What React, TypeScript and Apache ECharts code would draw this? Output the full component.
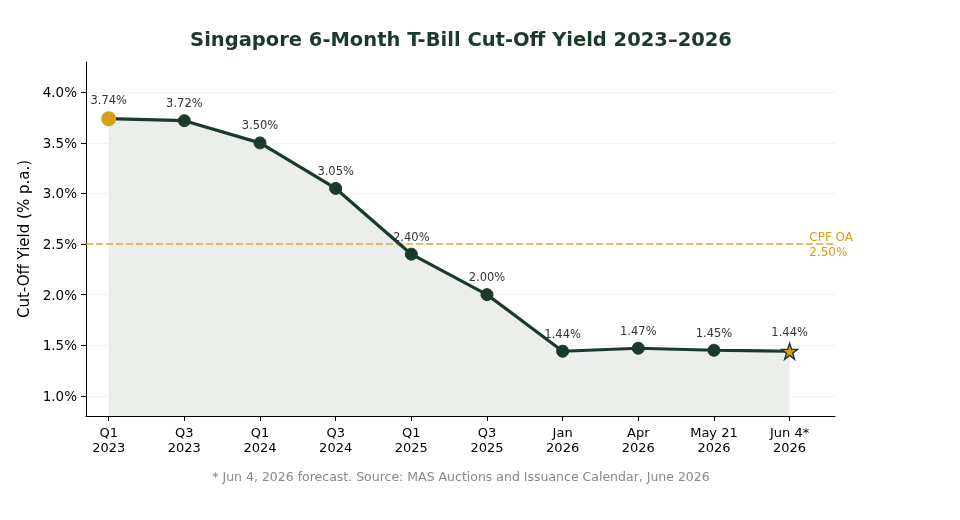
import React, { useEffect, useRef } from "react";
import * as echarts from "echarts";

// Auction periods (x positions are their indices)
const periods = [
  "Q1\n2023",
  "Q3\n2023",
  "Q1\n2024",
  "Q3\n2024",
  "Q1\n2025",
  "Q3\n2025",
  "Jan\n2026",
  "Apr\n2026",
  "May 21\n2026",
  "Jun 4*\n2026",
];

// 6-month T-bill cut-off yields, % p.a.
const yields = [3.74, 3.72, 3.5, 3.05, 2.4, 2.0, 1.44, 1.47, 1.45, 1.44];

// Y-axis ticks, % p.a.
const yTicks = [1.0, 1.5, 2.0, 2.5, 3.0, 3.5, 4.0];

// CPF Ordinary Account interest rate, % p.a.
const cpfOaRate = 2.5;

const DARK = "#1b3a2b";
const GOLD = "#d4a017";
const FONT = "DejaVu Sans";

const STAR =
  "path://M50,0 L61.8,35.1 L98.9,35.1 L68.9,56.9 L80.3,91.9 L50,70.2 L19.7,91.9 L31.1,56.9 L1.1,35.1 L38.2,35.1 Z";

export default function App() {
  const ref = useRef<HTMLDivElement>(null);

  useEffect(() => {
    if (!ref.current) return;
    const chart = echarts.init(ref.current, null, { renderer: "svg" });

    const idx = periods.map((_, i) => i);
    const lastIdx = yields.length - 1;
    const xy = yields.map((v, i) => [i, v]);

    const points = yields.map((v, i) => {
      const item: any = { value: [i, v] };
      if (i === 0) {
        item.symbolSize = 15;
        item.itemStyle = { color: GOLD, borderColor: GOLD, borderWidth: 0 };
      } else if (i === lastIdx) {
        item.symbol = STAR;
        item.symbolSize = 16;
        item.itemStyle = { color: GOLD, borderColor: DARK, borderWidth: 1.4 };
      }
      return item;
    });

    chart.setOption({
      animation: false,
      textStyle: { fontFamily: FONT },
      title: {
        text: "Singapore 6-Month T-Bill Cut-Off Yield 2023–2026",
        left: 456,
        textAlign: "center",
        top: 24,
        textStyle: {
          fontFamily: FONT,
          fontSize: 19.5,
          fontWeight: "bold",
          color: DARK,
        },
      },
      grid: { left: 86, right: 125, top: 62, bottom: 104 },
      xAxis: {
        type: "value",
        min: -0.3,
        max: 9.6,
        axisLine: { show: true, onZero: false, lineStyle: { color: "#000", width: 1 } },
        axisTick: {
          show: true,
          inside: false,
          length: 5,
          customValues: idx,
          lineStyle: { color: "#000" },
        },
        axisLabel: {
          customValues: idx,
          formatter: (v: number) => periods[Math.round(v)] ?? "",
          color: "#000",
          fontSize: 13,
          fontFamily: FONT,
          lineHeight: 15,
          margin: 9,
        },
        splitLine: { show: false },
      },
      yAxis: {
        type: "value",
        min: 0.8,
        max: 4.3,
        name: "Cut-Off Yield (% p.a.)",
        nameLocation: "middle",
        nameGap: 47,
        nameTextStyle: { fontFamily: FONT, fontSize: 15, color: "#000" },
        axisLine: { show: true, onZero: false, lineStyle: { color: "#000", width: 1 } },
        axisTick: {
          show: true,
          inside: false,
          length: 5,
          customValues: yTicks,
          lineStyle: { color: "#000" },
        },
        axisLabel: {
          customValues: yTicks,
          formatter: (v: number) => v.toFixed(1) + "%",
          color: "#000",
          fontSize: 13.5,
          fontFamily: FONT,
          margin: 9,
        },
        splitLine: { show: false },
      },
      series: [
        // shaded area under the yield curve, with faint grid lines beneath it
        {
          type: "line",
          data: xy,
          z: 1,
          silent: true,
          showSymbol: false,
          symbol: "none",
          lineStyle: { width: 0, opacity: 0 },
          areaStyle: { color: "#eceeec", opacity: 1, origin: "start" },
          markLine: {
            silent: true,
            symbol: "none",
            z: 0,
            label: { show: false },
            data: yTicks.map((t) => ({
              yAxis: t,
              lineStyle: { color: "#f0f0f0", width: 0.8, type: "solid" },
            })),
          },
        },
        // yield curve with markers and value labels
        {
          type: "line",
          data: points,
          z: 3,
          symbol: "circle",
          symbolSize: 12,
          itemStyle: { color: DARK, borderColor: DARK },
          lineStyle: { color: DARK, width: 3.2 },
          label: {
            show: true,
            position: "top",
            distance: 5,
            fontSize: 11.5,
            fontFamily: FONT,
            color: "#333",
            formatter: (p: any) => p.value[1].toFixed(2) + "%",
          },
          markLine: {
            silent: true,
            symbol: "none",
            z: 2,
            label: { show: false },
            data: [
              {
                yAxis: cpfOaRate,
                lineStyle: { color: GOLD, width: 1.5, type: [7, 3], opacity: 0.85 },
              },
            ],
          },
          markPoint: {
            silent: true,
            symbol: "circle",
            symbolSize: 0,
            data: [
              {
                coord: [9.26, cpfOaRate],
                label: {
                  show: true,
                  position: "right",
                  distance: 0,
                  formatter: "CPF OA\n" + cpfOaRate.toFixed(2) + "%",
                  color: GOLD,
                  fontSize: 12,
                  fontFamily: FONT,
                  lineHeight: 15,
                  align: "left",
                  verticalAlign: "middle",
                },
              },
            ],
          },
        },
      ],
      graphic: [
        {
          type: "text",
          x: 461,
          y: 476,
          style: {
            text: "* Jun 4, 2026 forecast. Source: MAS Auctions and Issuance Calendar, June 2026",
            textAlign: "center",
            textVerticalAlign: "middle",
            fill: "#888",
            fontSize: 12.5,
            fontFamily: FONT,
          },
        },
      ],
    });

    return () => chart.dispose();
  }, []);

  return (
    <div
      ref={ref}
      style={{ position: "fixed", left: 0, top: 0, width: 960, height: 520 }}
    />
  );
}
